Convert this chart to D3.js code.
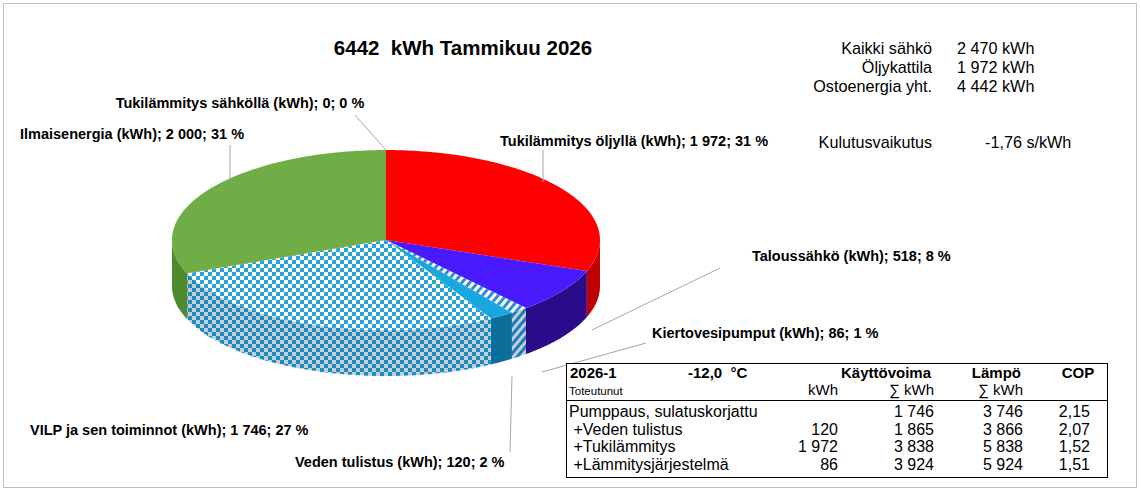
<!DOCTYPE html>
<html><head><meta charset="utf-8">
<script src="https://cdn.jsdelivr.net/npm/d3@7"></script>
<style>body{margin:0;background:#fff}svg{font-family:Arial,"Liberation Sans",sans-serif}</style>
</head><body><svg></svg>
<script>
// slices, clockwise from 12 o'clock
var names = ["Tukilämmitys öljyllä","Taloussähkö","Kiertovesipumput","Veden tulistus","VILP ja sen toiminnot","Ilmaisenergia","Tukilämmitys sähköllä"]
var values = [1972,518,86,120,1746,2000,0]
var pcts = ["31 %","8 %","1 %","2 %","27 %","31 %","0 %"]
var topFill = ["#ff0000","#4a1aff","url(#stripe)","#1aa7e0","url(#check)","#70ad47","#999"]
var sideFill = ["#c00000","#2a0c8a","url(#stripe)","#0b6f99","url(#check)","#4f8a2e","#777"]
// label positions: [x, y, anchor]
var labelPos = [[500,146,"start"],[752,261,"start"],[652,338,"start"],[295,467,"start"],[30,435,"start"],[20,139,"start"],[240,108,"middle"]]
var leaders = [[543,150,543,182],[720,268,592,330],[646,343,542,372],[510,452,512,376],null,[230,145,230,180],[355,115,386,150]]

var summaryNames = ["Kaikki sähkö","Öljykattila","Ostoenergia yht."]
var summaryVals = ["2 470 kWh","1 972 kWh","4 442 kWh"]

var tableRows = ["Pumppaus, sulatuskorjattu"," +Veden tulistus"," +Tukilämmitys"," +Lämmitysjärjestelmä"]
var tableKwh = ["","120","1 972","86"]
var tableSum = ["1 746","1 865","3 838","3 924"]
var tableHeat = ["3 746","3 866","5 838","5 924"]
var tableCop = ["2,15","2,07","1,52","1,51"]

var svg = d3.select("svg").attr("width",1141).attr("height",492)
svg.append("rect").attr("x",3.5).attr("y",3.5).attr("width",1133).attr("height",484)
  .attr("fill","#fff").attr("stroke","#bfbfbf")

var defs = svg.append("defs")
var ck = defs.append("pattern").attr("id","check").attr("patternUnits","userSpaceOnUse").attr("width",8).attr("height",8)
ck.append("rect").attr("width",8).attr("height",8).attr("fill","#fff")
ck.append("rect").attr("width",4).attr("height",4).attr("fill","#2aa3d6")
ck.append("rect").attr("x",4).attr("y",4).attr("width",4).attr("height",4).attr("fill","#2aa3d6")
var st = defs.append("pattern").attr("id","stripe").attr("patternUnits","userSpaceOnUse").attr("width",6).attr("height",6).attr("patternTransform","rotate(40)")
st.append("rect").attr("width",6).attr("height",6).attr("fill","#fff")
st.append("rect").attr("width",3).attr("height",6).attr("fill","#2a8fd0")

var cx = 386, cy = 240, rx = 214, ry = 90, depth = 46
var pie = d3.pie().sort(null).value(d => d)(values)
function pt(a, dy){ return [cx + rx*Math.sin(a), cy - ry*Math.cos(a) + (dy||0)] }
function arcPts(a0, a1, dy){
  var n = Math.max(2, Math.ceil((a1-a0)/0.02)), p = []
  for (var i=0;i<=n;i++) p.push(pt(a0 + (a1-a0)*i/n, dy))
  return p
}
var line = d3.line()
// side walls, only the front half is visible
pie.forEach(function(s,i){
  var a0 = Math.max(s.startAngle, Math.PI/2), a1 = Math.min(s.endAngle, 3*Math.PI/2)
  if (a1 <= a0) return
  var p = arcPts(a0,a1,0).concat(arcPts(a0,a1,depth).reverse())
  svg.append("path").attr("d", line(p)+"Z").attr("fill", sideFill[i])
  if (sideFill[i].indexOf("url")==0)
    svg.append("path").attr("d", line(p)+"Z").attr("fill","#004070").attr("opacity",0.25)
})
// top faces
pie.forEach(function(s,i){
  if (s.endAngle - s.startAngle <= 0) return
  var p = [[cx,cy]].concat(arcPts(s.startAngle, s.endAngle, 0))
  svg.append("path").attr("d", line(p)+"Z").attr("fill", topFill[i])
})

// leader lines and labels
svg.selectAll(".lead").data(leaders.filter(d => d)).enter().append("line")
  .attr("x1",d=>d[0]).attr("y1",d=>d[1]).attr("x2",d=>d[2]).attr("y2",d=>d[3])
  .attr("stroke","#a6a6a6").attr("stroke-width",1)
var fmt = v => d3.format(",")(v).replace(/,/g," ")
svg.selectAll(".lbl").data(names).enter().append("text")
  .attr("x",(d,i)=>labelPos[i][0]).attr("y",(d,i)=>labelPos[i][1])
  .attr("text-anchor",(d,i)=>labelPos[i][2])
  .attr("font-size",14.5).attr("font-weight","bold")
  .text((d,i)=>d+" (kWh); "+fmt(values[i])+"; "+pcts[i])

svg.append("text").attr("x",463).attr("y",55).attr("text-anchor","middle")
  .attr("font-size",20.5).attr("font-weight","bold").attr("xml:space","preserve")
  .text(d3.sum(values)+"  kWh Tammikuu 2026")

summaryNames.forEach(function(n,i){
  svg.append("text").attr("x",932).attr("y",54+i*19).attr("text-anchor","end").attr("font-size",16.2).text(n)
  svg.append("text").attr("x",957).attr("y",54+i*19).attr("font-size",16.2).text(summaryVals[i])
})
svg.append("text").attr("x",932).attr("y",148).attr("text-anchor","end").attr("font-size",16.2).text("Kulutusvaikutus")
svg.append("text").attr("x",985).attr("y",148).attr("font-size",16.2).text("-1,76 s/kWh")

// table
var t = svg.append("g")
t.append("rect").attr("x",566.5).attr("y",363.5).attr("width",541).attr("height",114).attr("fill","#fff").attr("stroke","#000")
t.append("line").attr("x1",567).attr("x2",1107).attr("y1",400.5).attr("y2",400.5).attr("stroke","#000")
var hdr = [["2026-1",570,"start"],["-12,0  °C",688,"start"],["Käyttövoima",931,"end"],["Lämpö",1021,"end"],["COP",1078,"middle"]]
hdr.forEach(h => t.append("text").attr("x",h[1]).attr("y",378).attr("text-anchor",h[2])
  .attr("font-size",15).attr("font-weight","bold").attr("xml:space","preserve").text(h[0]))
t.append("text").attr("x",569).attr("y",395).attr("font-size",11.5).text("Toteutunut")
;[["kWh",838],["∑ kWh",934],["∑ kWh",1023]].forEach(h => t.append("text").attr("x",h[1]).attr("y",395)
  .attr("text-anchor","end").attr("font-size",15).text(h[0]))
tableRows.forEach(function(r,i){
  var y = 417 + i*17.7
  t.append("text").attr("x",569).attr("y",y).attr("font-size",16).attr("xml:space","preserve").text(r)
  var cols = [[tableKwh[i],838],[tableSum[i],934],[tableHeat[i],1023],[tableCop[i],1090]]
  cols.forEach(c => t.append("text").attr("x",c[1]).attr("y",y).attr("text-anchor","end").attr("font-size",16).text(c[0]))
})
</script></body></html>
